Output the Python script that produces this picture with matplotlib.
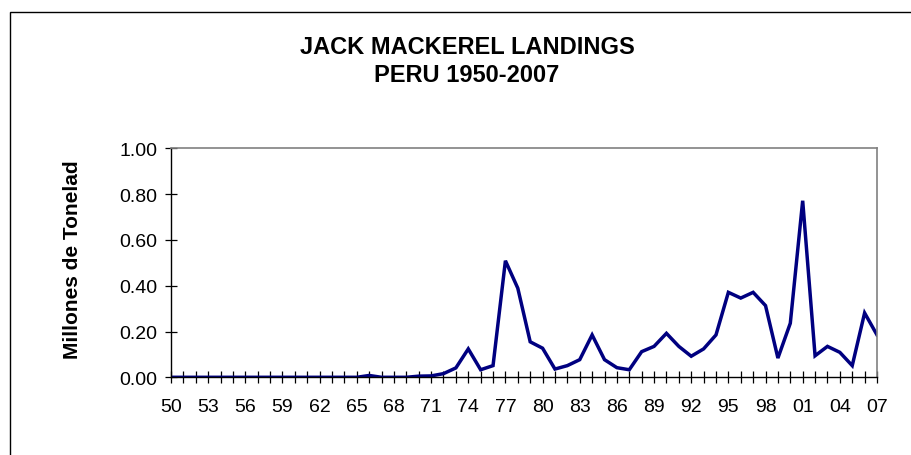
import matplotlib
matplotlib.use("Agg")
import matplotlib.pyplot as plt
from matplotlib.patches import Rectangle

# Annual jack mackerel landings, Peru (million tonnes)
years = list(range(1950, 2008))
landings = [
    0.000, 0.000, 0.000, 0.000, 0.000, 0.000, 0.000, 0.000, 0.000, 0.000,  # 1950-59
    0.000, 0.000, 0.000, 0.000, 0.000, 0.000, 0.008, 0.000, 0.000, 0.000,  # 1960-69
    0.005, 0.006, 0.016, 0.041, 0.124, 0.033, 0.051, 0.509, 0.389, 0.155,  # 1970-79
    0.127, 0.036, 0.051, 0.077, 0.185, 0.077, 0.042, 0.033, 0.112, 0.135,  # 1980-89
    0.192, 0.135, 0.092, 0.124, 0.185, 0.371, 0.346, 0.371, 0.313, 0.084,  # 1990-99
    0.236, 0.771, 0.094, 0.135, 0.109, 0.051, 0.281, 0.185,                # 2000-07
]
label_years = years[::3]
tick_labels = [f"{y % 100:02d}" for y in label_years]
y_ticks = [0.0, 0.2, 0.4, 0.6, 0.8, 1.0]

title_lines = ["JACK MACKEREL LANDINGS", "PERU 1950-2007"]
y_title = "Millones de Tonelad"

plt.rcParams["font.family"] = ["Liberation Sans", "DejaVu Sans"]

W, H = 912, 456
fig = plt.figure(figsize=(W / 100, H / 100), dpi=100)
fig.patch.set_facecolor("white")

# outer chart frame
fig.patches.append(Rectangle((10 / W, -0.1), 1.2, 1 - 13 / H + 0.1,
                             transform=fig.transFigure, fill=False,
                             edgecolor="black", linewidth=1.0))

left, right, top, bottom = 171, 877, 149.3, 378.3
ax = fig.add_axes([left / W, 1 - bottom / H, (right - left) / W, (bottom - top) / H])

ax.plot(years, landings, color="#000080", linewidth=2.5, solid_joinstyle="miter")

ax.set_xlim(years[0], years[-1])
ax.set_ylim(0, 1.0)
ax.set_yticks(y_ticks)
ax.set_yticklabels([f"{v:.2f}" for v in y_ticks])
ax.set_xticks(years)
ax.set_xticklabels([tick_labels[label_years.index(y)] if y in label_years else "" for y in years])

for s in ("top", "right"):
    ax.spines[s].set_color("#808080")
    ax.spines[s].set_linewidth(1.2)
for s in ("left", "bottom"):
    ax.spines[s].set_color("black")
    ax.spines[s].set_linewidth(1.0)

ax.tick_params(axis="both", direction="inout", length=8, width=0.9, colors="black",
               labelsize=14)
ax.tick_params(axis="y", pad=6)
ax.tick_params(axis="x", pad=11)

ax.set_ylabel(y_title, fontsize=15, fontweight="bold")
ax.yaxis.set_label_coords(82 / W, 1 - 260 / H, transform=fig.transFigure)

fig.text(467 / W, 1 - 54.3 / H, title_lines[0], ha="center", va="baseline",
         fontsize=17, fontweight="bold")
fig.text(467 / W, 1 - 81.7 / H, title_lines[1], ha="center", va="baseline",
         fontsize=17, fontweight="bold")

fig.savefig("out.png", dpi=100)
